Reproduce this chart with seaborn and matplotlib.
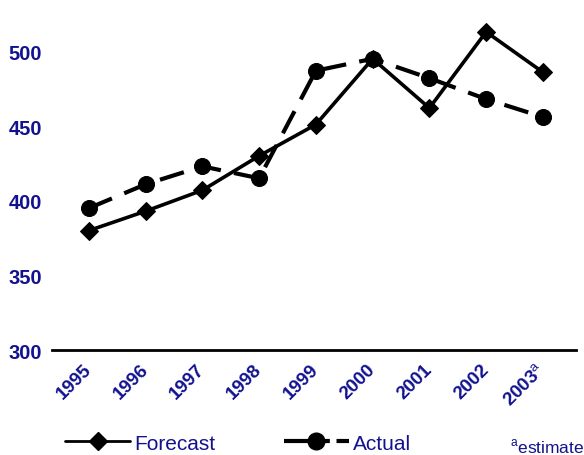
import matplotlib
matplotlib.use("Agg")
import matplotlib.pyplot as plt
from matplotlib.lines import Line2D
import seaborn as sns
import pandas as pd

years = ["1995", "1996", "1997", "1998", "1999", "2000", "2001", "2002", "2003$^\\mathrm{a}$"]
forecast = [380, 393, 407, 430, 451, 495, 462, 513, 486]
actual = [395, 411, 423, 415, 487, 495, 482, 468, 456]
y_ticks = [300, 350, 400, 450, 500]

NAVY = "#12128f"

sns.set_theme(style="white")
plt.rcParams["font.family"] = ["Liberation Sans", "DejaVu Sans"]
plt.rcParams["mathtext.fontset"] = "custom"
plt.rcParams["mathtext.rm"] = "Liberation Sans"

df = pd.DataFrame({
    "pos": list(range(len(years))) * 2,
    "value": forecast + actual,
    "series": ["Forecast"] * len(years) + ["Actual"] * len(years),
})

fig = plt.figure(figsize=(5.84, 4.56), dpi=100)
ax = fig.add_axes([0.089, 0.230, 0.897, 0.770])

sns.lineplot(
    data=df, x="pos", y="value", style="series",
    markers={"Forecast": "D", "Actual": "o"},
    dashes={"Forecast": "", "Actual": (6, 3.2)},
    color="black", linewidth=3, markersize=11,
    markeredgecolor="black", ax=ax, legend=False,
)
# circles a little larger than the diamonds, forecast line slightly thinner
for line in ax.lines:
    if line.get_marker() == "o":
        line.set_markersize(11.5)
    else:
        line.set_markersize(9.5)
        line.set_linewidth(2.6)

ax.set_xlim(-0.65, 8.58)
ax.set_ylim(300, 535)
ax.set_yticks(y_ticks)
ax.set_yticklabels([str(v) for v in y_ticks], fontsize=14.5, fontweight="bold", color=NAVY)
ax.set_xticks(range(len(years)))
ax.set_xticklabels(years, fontsize=13.5, fontweight="bold", color=NAVY,
                   rotation=45, ha="right", va="center", rotation_mode="anchor")
ax.tick_params(axis="x", length=0, pad=12)
ax.tick_params(axis="y", length=0, pad=7)
ax.set_xlabel("")
ax.set_ylabel("")
for side in ("top", "right", "left"):
    ax.spines[side].set_visible(False)
ax.spines["bottom"].set_color("black")
ax.spines["bottom"].set_linewidth(2)

handles = [
    Line2D([0], [0], color="black", lw=2, marker="D", markersize=9),
    Line2D([0], [0], color="black", lw=3, marker="o", markersize=12, dashes=(11, 1.6)),
]
fig.legend(handles, ["Forecast", "Actual"], loc="lower left",
           bbox_to_anchor=(0.080, -0.036), ncol=2, frameon=False,
           handlelength=3.1, handletextpad=0.2, columnspacing=3.3,
           prop={"size": 15}, labelcolor=NAVY)
fig.text(0.874, 0.006, "$^\\mathrm{a}$estimate", fontsize=12.5, color=NAVY,
         va="baseline")

fig.savefig("out.png", dpi=100, facecolor="white")
